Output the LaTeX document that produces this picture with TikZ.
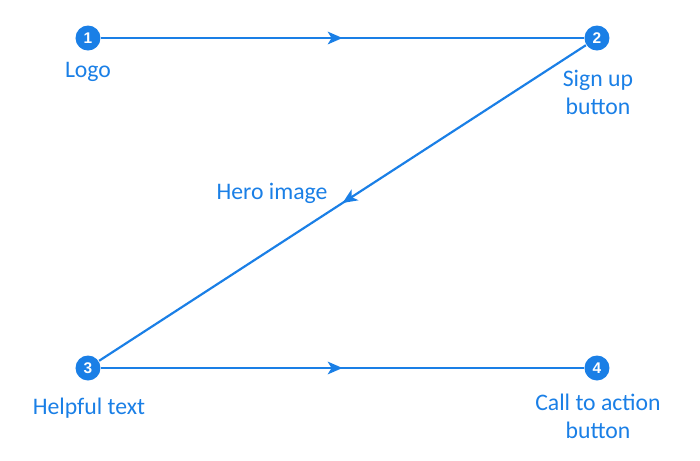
\documentclass[tikz,border=0pt]{standalone}
\usepackage{fontspec}
\setmainfont{Carlito}
\newfontfamily\numfont{Liberation Sans}
\usetikzlibrary{arrows.meta,decorations.markings}
\definecolor{flowblue}{HTML}{1A7FE6}
\tikzset{
  stepdot/.style={circle, fill=flowblue, inner sep=0pt, minimum size=0.25cm,
    text=white, font=\numfont\bfseries\fontsize{4.4}{5}\selectfont},
  steplabel/.style={text=flowblue, font=\fontsize{6.75}{8}\selectfont, align=center},
  midarrow/.style={draw=flowblue, line width=0.62pt,
    postaction={decorate, decoration={markings,
      mark=at position 0.5 with {\arrow{Stealth[length=4.2pt,width=3.6pt,inset=1.1pt]}}}}}
}
\begin{document}
\begin{tikzpicture}
		%%%%% START %%%%%
		\useasboundingbox (0,0) rectangle (7,-4.61);
		
		\node[stepdot] (logo) at (0.88,-0.38) {1};
		\node[stepdot] (signup) at (5.97,-0.38) {2};
		\node[stepdot] (helpful) at (0.88,-3.68) {3};
		\node[stepdot] (action) at (5.97,-3.68) {4};
		
		\draw[midarrow] (logo) -- (signup);
		\draw[midarrow] (signup) -- (helpful);
		\draw[midarrow] (helpful) -- (action);
		
		\node[steplabel] (logotext) at (0.88,-0.72) {Logo};
		\node[steplabel] (signuptext) at (5.98,-0.92) {Sign up\\button};
		\node[steplabel] (herotext) at (2.72,-1.93) {Hero image};
		\node[steplabel] (helpfultext) at (0.89,-4.08) {Helpful text};
		\node[steplabel] (actiontext) at (5.98,-4.16) {Call to action\\button};
		
		%%%%% END %%%%%
	\end{tikzpicture}
\end{document}
